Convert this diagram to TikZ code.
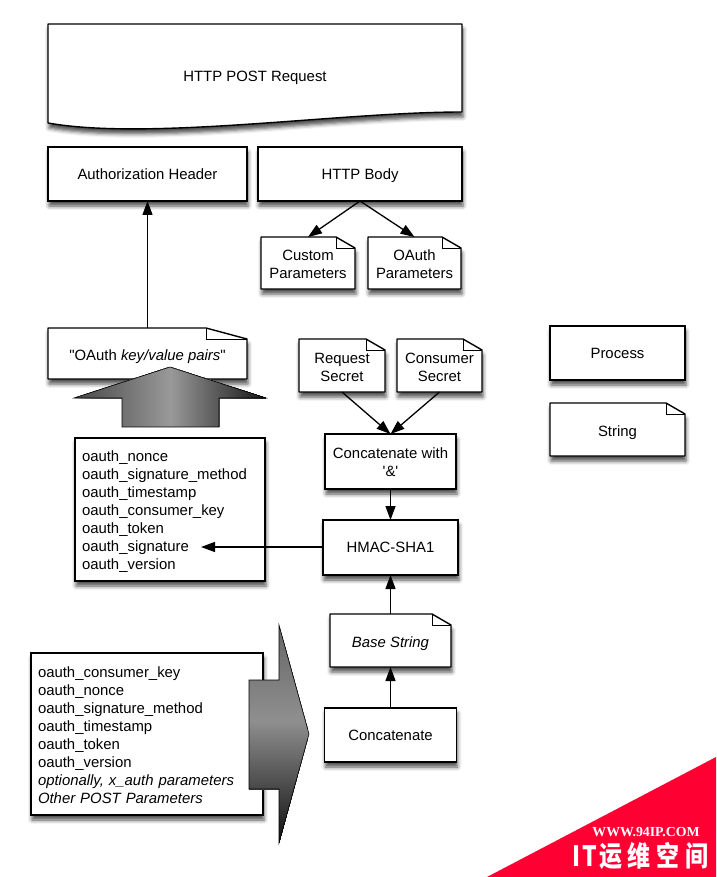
\documentclass[tikz,border=0pt]{standalone}
\usepackage{fontspec}
\setmainfont{Liberation Sans}
\newfontfamily\cjkfont{Noto Sans CJK SC}
\newfontfamily\markfont{Liberation Serif}
\usetikzlibrary{positioning, calc, arrows.meta, backgrounds, shadows.blur}

\definecolor{markred}{HTML}{FF0033}
% keeps a line with descenders on the same level as one without
\newcommand{\flatline}[1]{\raisebox{0pt}[\height][0pt]{#1}}

\begin{document}
\begin{tikzpicture}[x=1pt, y=-1pt,
    % Boxes, the lists inside them and the folded papers share one shadow.
    softshadow/.style={
      blur shadow={shadow xshift=1pt, shadow yshift=-5pt, shadow blur radius=4pt, shadow opacity=70}
    },
    process/.style={
      rectangle, draw=black, line width=1.1pt, fill=white, inner sep=0pt, outer sep=0pt,
      align=center, font=\fontsize{14.9}{18}\selectfont,
      minimum width=135pt, minimum height=54pt, softshadow
    },
    listing/.style={
      process, align=left, inner xsep=7pt, execute at begin node={\rule{0pt}{14pt}}
    },
    paper/.style={
      rectangle, inner sep=0pt, outer sep=0pt, align=center, font=\fontsize{14.9}{18}\selectfont,
      minimum width=94pt, minimum height=52pt, execute at begin node={\rule{0pt}{14pt}}
    },
    outline/.style={draw=black, line width=1.4pt, fill=white, line join=round},
    arrow/.style={line width=1.3pt, -{Triangle[length=14pt, width=10pt]}},
    fat/.style={draw=black, line width=0.6pt, line join=miter}
]

% Node 1: request, its wavy outline comes further down
\node [paper, minimum width=414pt, minimum height=102pt] (request) at (255,75) {\flatline{HTTP POST Request}};

% Node 2: the two parts of the request
\node [process, minimum width=199pt] (header) at (147.5,174) {Authorization Header};
\node [process, right=11pt of header, minimum width=204pt] (body) {\flatline{HTTP Body}};

% Node 3: parameters in the body
\node [paper, below=36pt of body, xshift=-52pt] (custom) {\rule{0pt}{12.7pt}Custom\\Parameters};
\node [paper, below=36pt of body, xshift=54.5pt, minimum width=93pt] (oauthparams) {\rule{0pt}{12.7pt}OAuth\\Parameters};

% Node 4: pairs under the header, and what goes into them
\node [paper, below=127pt of header, minimum width=199pt, minimum height=51pt] (pairs) {\flatline{\textquotedbl OAuth \textit{key/value pairs}\textquotedbl}};
\node [listing, below=59pt of pairs, xshift=22.5pt, minimum width=190pt, minimum height=143pt, text width=176pt] (signedlist) {%
  oauth\_nonce\\
  oauth\_signature\_method\\
  oauth\_timestamp\\
  oauth\_consumer\_key\\
  oauth\_token\\
  oauth\_signature\\
  oauth\_version};

% Node 5: the signing column
\node [paper, minimum width=86pt, minimum height=53pt] (reqsecret) at (342,365.5) {\rule{0pt}{14.7pt}Request\\Secret};
\node [paper, right=12pt of reqsecret, minimum width=85pt, minimum height=53pt] (conssecret) {\rule{0pt}{14.7pt}Consumer\\Secret};
\node [process, minimum width=131pt, minimum height=55pt] (joinsecrets) at (390.5,461.5) {\rule{0pt}{12.7pt}Concatenate with\\\textquotesingle\&\textquotesingle};
\node [process, below=31pt of joinsecrets, minimum height=55pt] (hmac) {HMAC-SHA1};
\node [paper, below=39pt of hmac, minimum width=121pt, minimum height=53pt] (basestring) {\flatline{\textit{Base String}}};
\node [process, below=41pt of basestring, minimum width=132pt] (joinparams) {Concatenate};

% Node 6: list that feeds the last concatenation
\node [listing, minimum width=232pt, minimum height=162pt, text width=218pt] (paramlist) at (147,734) {%
  oauth\_consumer\_key\\
  oauth\_nonce\\
  oauth\_signature\_method\\
  oauth\_timestamp\\
  oauth\_token\\
  oauth\_version\\
  \textit{optionally, x\_auth parameters}\\
  \textit{Other POST Parameters}};

% Node 7: legend
\node [process] (legendprocess) at (617.5,353) {Process};
\node [paper, below=23pt of legendprocess, minimum width=135pt, minimum height=53pt] (legendstring) {\flatline{String}};

% Free end of the arrow that stops inside the list
\coordinate (signaturetip) at (201,547);

% Outlines behind the text
\begin{scope}[on background layer]
  \draw [outline, softshadow] (request.north west) -- (request.north east) -- (462,112)
    .. controls (340,112) and (150,141) .. (48,123) -- cycle;
  \foreach \n/\fold in {custom/19, oauthparams/19, pairs/41, reqsecret/19, conssecret/19, basestring/19, legendstring/19} {
    \draw [outline, softshadow] (\n.north west) -- ($(\n.north east)+(-\fold,0)$)
      -- ($(\n.north east)+(0,11)$) -- (\n.south east) -- (\n.south west) -- cycle;
    \draw [draw=black, line width=1pt] ($(\n.north east)+(-\fold,0)$)
      -- ($(\n.north east)+(-\fold,11)$) -- ($(\n.north east)+(0,11)$);
  }
\end{scope}

% Draw arrows connecting the nodes
\draw [arrow] (pairs) -- (header);
\draw [arrow] (body.south) -- (custom.north);
\draw [arrow] (body.south) -- (oauthparams.north);
\draw [arrow] (reqsecret.south) -- (joinsecrets.north);
\draw [arrow] (conssecret.south) -- (joinsecrets.north);
\draw [arrow] (joinsecrets) -- (hmac);
\draw [arrow] (hmac.west |- signaturetip) -- (signaturetip);
\draw [arrow] (basestring) -- (hmac);
\draw [arrow] (joinparams) -- (basestring);

% Fat arrows on top of the boxes, the grey runs in stripes
\begin{scope}
  \clip (170,367) -- (266,398) -- (219,398) -- (219,427) -- (122,427) -- (122,398) -- (74,398) -- cycle;
  \foreach \sx in {74,76,...,264} {
    \pgfmathsetmacro\shade{\sx<170 ? 72-(\sx-74)/96*32 : 40+(\sx-170)/96*52}
    \fill [black!\shade] (\sx,367) rectangle (266,427);
  }
\end{scope}
\draw [fat] (170,367) -- (266,398) -- (219,398) -- (219,427) -- (122,427) -- (122,398) -- (74,398) -- cycle;
\begin{scope}
  \clip (309,734) -- (279,843) -- (279,789) -- (249,789) -- (249,680) -- (279,680) -- (279,625) -- cycle;
  \foreach \sy in {625,627,...,841} {
    \pgfmathsetmacro\shade{\sy<720 ? 60-(\sy-625)/95*16 : 44+(\sy-720)/123*50}
    \fill [black!\shade] (249,\sy) rectangle (309,843);
  }
\end{scope}
\draw [fat] (309,734) -- (279,843) -- (279,789) -- (249,789) -- (249,680) -- (279,680) -- (279,625) -- cycle;

% Corner mark
\fill [markred] (716,757) -- (716,877) -- (487,877) -- cycle;
\node [text=white, inner sep=0pt] (markurl) at (646,832) {\fontsize{13.8}{14}\markfont\bfseries WWW.94IP.COM};
\node [text=white, inner sep=0pt, xscale=0.82, transform shape, below=5pt of markurl, xshift=-7pt] (markname) {\fontsize{28}{30}\cjkfont\bfseries I\hspace{3pt}T\hspace{2pt}运\hspace{7pt}维\hspace{7pt}空\hspace{7pt}间};

\useasboundingbox (0,0) rectangle (716,877);
\end{tikzpicture}
\end{document}
